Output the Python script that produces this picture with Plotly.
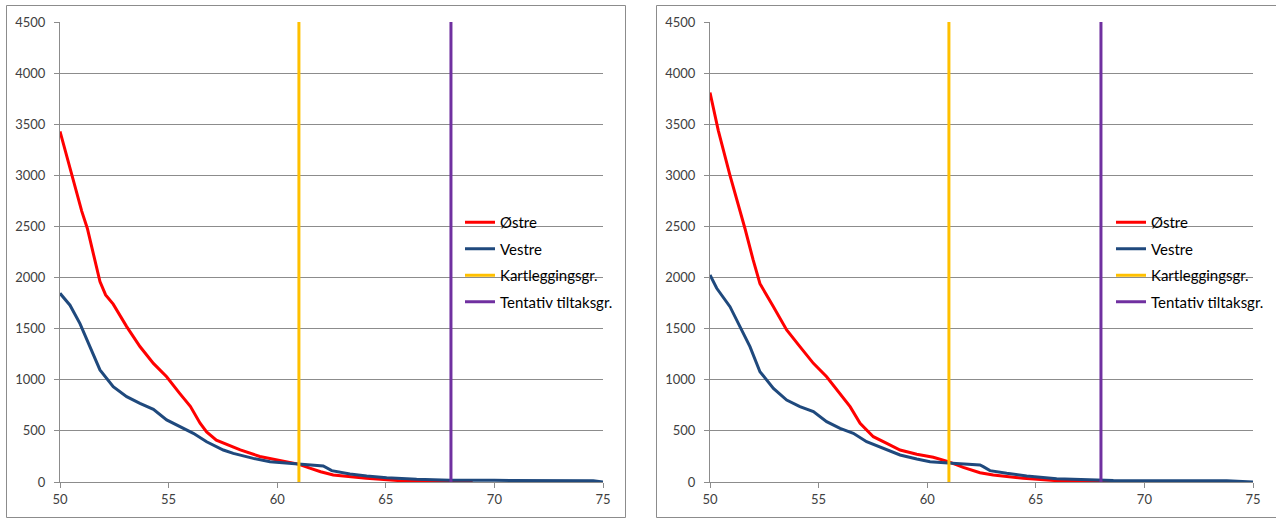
import plotly.graph_objects as go

# ---------------- data ----------------
# Left chart
left_ostre_x = [50.0, 50.3, 50.54, 50.8, 51.0, 51.26, 51.6, 51.84, 52.1, 52.45, 53.07, 53.68, 54.3, 54.91,
                55.5, 56.0, 56.45, 56.75, 57.2, 57.98, 58.3, 59.2, 60.0, 60.97, 61.5, 62.0, 62.58, 64.1,
                65.65, 67.2, 68.5, 69.0]
left_ostre_y = [3430, 3190, 3000, 2810, 2650, 2480, 2190, 1960, 1830, 1740, 1520, 1325, 1160, 1030,
                870, 740, 575, 490, 410, 345, 315, 250, 215, 175, 135, 100, 68, 36,
                13, 6, 2, 0]
left_vestre_x = [50.0, 50.46, 50.92, 51.38, 51.84, 52.45, 53.07, 53.68, 54.3, 54.91, 55.52, 56.14, 56.75,
                 57.52, 57.98, 58.9, 59.67, 60.74, 61.66, 62.12, 62.51, 63.35, 64.12, 65.04, 66.42, 67.96,
                 70.0, 72.0, 74.55, 75.0]
left_vestre_y = [1846, 1730, 1550, 1325, 1096, 932, 835, 770, 711, 607, 541, 476, 394,
                 313, 280, 231, 199, 183, 166, 157, 111, 78, 59, 42, 26, 18,
                 16, 14, 12, 0]

# Right chart
right_ostre_x = [50.0, 50.38, 50.92, 51.3, 51.61, 51.99, 52.3, 52.92, 53.53, 54.14, 54.76, 55.37, 55.99,
                 56.45, 56.91, 57.52, 58.14, 58.75, 59.52, 60.28, 60.97, 61.66, 62.43, 63.04, 64.42,
                 65.96, 68.26, 71.8]
right_ostre_y = [3810, 3440, 3000, 2720, 2480, 2170, 1940, 1715, 1487, 1324, 1161, 1030, 868,
                 737, 574, 443, 378, 313, 271, 242, 199, 143, 91, 68, 36,
                 13, 3, 0]
right_vestre_x = [50.0, 50.31, 50.92, 51.38, 51.84, 52.3, 52.92, 53.53, 54.14, 54.76, 55.37, 55.99, 56.6,
                  57.21, 57.98, 58.75, 59.52, 60.13, 60.97, 61.5, 62.43, 62.58, 62.89, 63.66, 64.58,
                  65.96, 67.96, 68.57, 73.79, 75.0]
right_vestre_y = [2025, 1895, 1715, 1519, 1324, 1079, 916, 802, 737, 688, 590, 525, 476,
                  394, 329, 264, 225, 199, 187, 178, 166, 150, 111, 85, 59,
                  33, 20, 14, 13, 0]

# Thresholds (vertical lines)
kartlegging_x = 61
tiltak_x = 68
y_max = 4500

series_names = ["Østre", "Vestre", "Kartleggingsgr.", "Tentativ tiltaksgr."]
series_colors = ["#FF0000", "#1F497D", "#FFC000", "#7030A0"]

x_ticks = [50, 55, 60, 65, 70, 75]
y_ticks = [0, 500, 1000, 1500, 2000, 2500, 3000, 3500, 4000, 4500]

# ---------------- figure ----------------
W, H = 1276, 519
FONT = "Lato, 'Open Sans', sans-serif"

fig = go.Figure()

panels = [
    ("x", "y", "legend", left_ostre_x, left_ostre_y, left_vestre_x, left_vestre_y),
    ("x2", "y2", "legend2", right_ostre_x, right_ostre_y, right_vestre_x, right_vestre_y),
]

for xa, ya, lg, ox, oy, vx, vy in panels:
    data = [
        (ox, oy),
        (vx, vy),
        ([kartlegging_x, kartlegging_x], [0, y_max]),
        ([tiltak_x, tiltak_x], [0, y_max]),
    ]
    for i, (xs, ys) in enumerate(data):
        fig.add_trace(go.Scatter(
            x=xs, y=ys, mode="lines", name=series_names[i],
            line=dict(color=series_colors[i], width=3),
            xaxis=xa, yaxis=ya, legend=lg, legendgroup=lg + str(i),
            hoverinfo="skip",
        ))

def px_x(p):
    return p / W

def px_y(p):
    return 1 - p / H

grid_col = "#8C8C8C"
tick_font = dict(family=FONT, size=13, color="#404040")

x_common = dict(
    showgrid=False, zeroline=False, showline=True, linecolor=grid_col, linewidth=1,
    ticks="outside", ticklen=5, tickcolor=grid_col, tickfont=tick_font,
    automargin=False, range=[50, 75], tickvals=x_ticks,
)
y_common = dict(
    showgrid=True, gridcolor=grid_col, gridwidth=1, zeroline=False, showline=True,
    linecolor=grid_col, linewidth=1, ticks="outside", ticklen=5, tickcolor=grid_col,
    tickfont=tick_font, automargin=False, ticklabelstandoff=6, range=[0, 4500], tickvals=y_ticks,
)
legend_common = dict(
    xanchor="left", yanchor="top", bgcolor="rgba(255,255,255,0)",
    font=dict(family=FONT, size=15, color="#000"),
    tracegroupgap=4, itemclick=False, itemdoubleclick=False,
)

fig.update_layout(
    width=W, height=H,
    margin=dict(l=0, r=0, t=0, b=0, autoexpand=False),
    paper_bgcolor="white", plot_bgcolor="white",
    font=dict(family=FONT, size=13, color="#000000"),
    xaxis=dict(domain=[px_x(60), px_x(603)], anchor="y", **x_common),
    yaxis=dict(domain=[px_y(482), px_y(22)], anchor="x", **y_common),
    xaxis2=dict(domain=[px_x(710), px_x(1253)], anchor="y2", **x_common),
    yaxis2=dict(domain=[px_y(482), px_y(22)], anchor="x2", **y_common),
    legend=dict(x=px_x(460), y=px_y(206), **legend_common),
    legend2=dict(x=px_x(1111), y=px_y(206), **legend_common),
    shapes=[
        dict(type="rect", xref="paper", yref="paper",
             x0=px_x(6.5), x1=px_x(625.5), y0=px_y(517.5), y1=px_y(5.5),
             line=dict(color="#8C8C8C", width=1), layer="below"),
        dict(type="rect", xref="paper", yref="paper",
             x0=px_x(656.5), x1=px_x(1280), y0=px_y(517.5), y1=px_y(5.5),
             line=dict(color="#8C8C8C", width=1), layer="below"),
    ],
)

fig.write_html("out.html")
